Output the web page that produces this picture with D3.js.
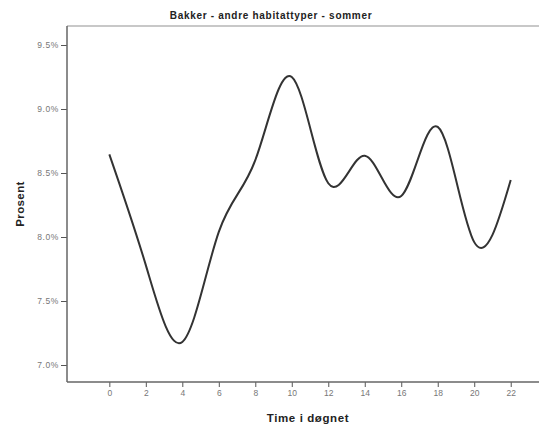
<!DOCTYPE html>
<html><head><meta charset="utf-8">
<script src="https://cdn.jsdelivr.net/npm/d3@7"></script>
<style>body{margin:0;background:#fff}svg{display:block}</style>
</head><body>
<script>
const title = "Bakker - andre habitattyper - sommer";
const xLabel = "Time i døgnet";
const yLabel = "Prosent";
const hours = [0, 2, 4, 6, 8, 10, 12, 14, 16, 18, 20, 22];
const values = [8.646, 7.78, 7.18, 8.04, 8.60, 9.25, 8.42, 8.635, 8.32, 8.86, 7.96, 8.445];
const xTicks = [0, 2, 4, 6, 8, 10, 12, 14, 16, 18, 20, 22];
const yTicks = [7.0, 7.5, 8.0, 8.5, 9.0, 9.5];

(function () {
const W = 539, H = 427;
const svg = d3.select("body").append("svg").attr("width", W).attr("height", H);
const mLeft = 67, mRight = 539, mTop = 26, mBottom = 382;
const x = d3.scaleLinear().domain([-2.32, 23.55]).range([mLeft, mRight]);
const y = d3.scaleLinear().domain([7.0, 9.5]).range([365, 45]);
const font = "Liberation Sans, Arial, sans-serif";

svg.append("line").attr("x1", mLeft).attr("x2", mRight).attr("y1", mTop).attr("y2", mTop)
  .attr("stroke", "#c8c8c8").attr("stroke-width", 2);

const yAxis = svg.append("g").attr("transform", `translate(${mLeft},0)`)
  .call(d3.axisLeft(y).tickValues(yTicks).tickSize(6).tickPadding(2).tickFormat(d => d.toFixed(1) + "%"));
yAxis.select(".domain").remove();
yAxis.selectAll(".tick line").attr("stroke", "#555");
yAxis.selectAll("text").attr("fill", "#777").style("font-family", font).style("font-size", "8.5px").style("letter-spacing", "0.6px");
svg.append("line").attr("x1", mLeft).attr("x2", mLeft).attr("y1", mTop).attr("y2", mBottom)
  .attr("stroke", "#666").attr("stroke-width", 1.5);

const xAxis = svg.append("g").attr("transform", `translate(0,${mBottom})`)
  .call(d3.axisBottom(x).tickValues(xTicks).tickSize(5).tickPadding(3).tickFormat(d3.format("d")));
xAxis.select(".domain").remove();
xAxis.selectAll(".tick line").attr("stroke", "#555");
xAxis.selectAll("text").attr("fill", "#777").style("font-family", font).style("font-size", "8.5px");
svg.append("line").attr("x1", mLeft).attr("x2", mRight).attr("y1", mBottom).attr("y2", mBottom)
  .attr("stroke", "#666").attr("stroke-width", 1.5);

const data = hours.map((h, i) => [h, values[i]]);
svg.append("path").datum(data)
  .attr("d", d3.line().x(d => x(d[0])).y(d => y(d[1])).curve(d3.curveNatural))
  .attr("fill", "none").attr("stroke", "#333").attr("stroke-width", 2);

svg.append("text").attr("x", 271).attr("y", 19).attr("text-anchor", "middle")
  .style("font-family", font).style("font-size", "10px").style("font-weight", "bold").style("letter-spacing", "0.7px")
  .attr("fill", "#222").text(title);
svg.append("text").attr("x", 308).attr("y", 422).attr("text-anchor", "middle")
  .style("font-family", font).style("font-size", "11.5px").style("font-weight", "bold").style("letter-spacing", "0.6px")
  .attr("fill", "#222").text(xLabel);
svg.append("text").attr("transform", "translate(24,204) rotate(-90)").attr("text-anchor", "middle")
  .style("font-family", font).style("font-size", "11.5px").style("font-weight", "bold").style("letter-spacing", "0.4px")
  .attr("fill", "#222").text(yLabel);
})();
</script>
</body></html>
